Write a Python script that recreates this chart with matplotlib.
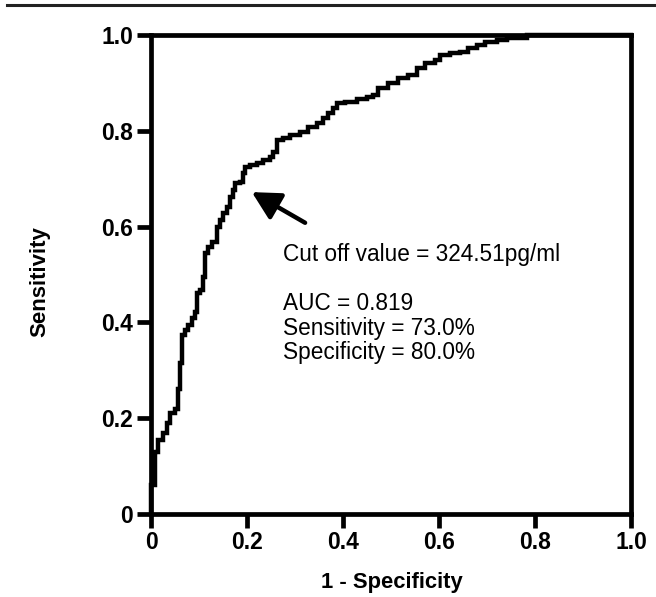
import matplotlib
matplotlib.use("Agg")
import matplotlib.pyplot as plt
from matplotlib.lines import Line2D

# ---- data ----
fpr = [0.0, 0.0, 0.008, 0.015, 0.025, 0.033, 0.040, 0.050, 0.056, 0.060,
       0.065, 0.071, 0.077, 0.085, 0.092, 0.096, 0.102, 0.108, 0.1125, 0.119,
       0.127, 0.137, 0.144, 0.150, 0.158, 0.165, 0.171, 0.175, 0.185, 0.192,
       0.196, 0.206, 0.220, 0.233, 0.248, 0.254, 0.262, 0.275, 0.290, 0.310,
       0.327, 0.346, 0.358, 0.369, 0.379, 0.388, 0.405, 0.430, 0.450, 0.462,
       0.473, 0.494, 0.515, 0.535, 0.554, 0.571, 0.592, 0.602, 0.623, 0.644,
       0.660, 0.679, 0.696, 0.721, 0.742, 0.783, 1.0]
tpr = [0.0, 0.06, 0.13, 0.155, 0.17, 0.19, 0.21, 0.22, 0.26, 0.315,
       0.374, 0.384, 0.395, 0.41, 0.422, 0.461, 0.468, 0.495, 0.545, 0.557,
       0.568, 0.599, 0.614, 0.628, 0.641, 0.662, 0.676, 0.691, 0.693, 0.712,
       0.724, 0.729, 0.733, 0.739, 0.745, 0.756, 0.781, 0.785, 0.791, 0.797,
       0.808, 0.816, 0.827, 0.837, 0.848, 0.858, 0.861, 0.866, 0.871, 0.875,
       0.889, 0.90, 0.91, 0.916, 0.931, 0.942, 0.948, 0.958, 0.962, 0.965,
       0.973, 0.979, 0.985, 0.99, 0.994, 1.0, 1.0]

x_ticks = [0, 0.2, 0.4, 0.6, 0.8, 1.0]
x_tick_labels = ["0", "0.2", "0.4", "0.6", "0.8", "1.0"]
y_ticks = [0, 0.2, 0.4, 0.6, 0.8, 1.0]
y_tick_labels = ["0", "0.2", "0.4", "0.6", "0.8", "1.0"]

cutoff_point = (0.21, 0.672)
arrow_tail = (0.321, 0.608)
info_text = ("Cut off value = 324.51pg/ml\n\n"
             "AUC = 0.819\n"
             "Sensitivity = 73.0%\n"
             "Specificity = 80.0%")

plt.rcParams['font.family'] = ['Liberation Sans', 'DejaVu Sans']

fig = plt.figure(figsize=(6.56, 5.97), dpi=100)
ax = fig.add_axes([151/656, 1-514/597, 480/656, 479/597])

ax.plot(fpr, tpr, drawstyle='steps-post', color='black', lw=3.2,
        clip_on=False, zorder=3, solid_joinstyle='miter')

ax.set_xlim(0, 1)
ax.set_ylim(0, 1)
for s in ax.spines.values():
    s.set_linewidth(3.4)
ax.set_xticks(x_ticks)
ax.set_xticklabels(x_tick_labels)
ax.set_yticks(y_ticks)
ax.set_yticklabels(y_tick_labels)
ax.tick_params(axis='both', length=10, width=3.4, labelsize=16.5, color='black')
ax.tick_params(axis='x', pad=2)
ax.tick_params(axis='y', pad=3)
for lab in ax.get_xticklabels() + ax.get_yticklabels():
    lab.set_fontweight('bold')

ax.annotate('', xy=cutoff_point, xytext=arrow_tail,
            arrowprops=dict(arrowstyle='-|>,head_length=0.85,head_width=0.45',
                            mutation_scale=20, lw=3.2, color='black',
                            shrinkA=0, shrinkB=0))
ax.text(0.275, 0.565, info_text, fontsize=16.3, va='top', ha='left',
        linespacing=1.08)

fig.text(392/656, 1-588/597, "1 - Specificity", fontsize=15.8, fontweight='bold',
         ha='center', va='baseline')
fig.text(40/656, 1-282/597, "Sensitivity", fontsize=16, fontweight='bold',
         ha='center', va='center', rotation=90)

fig.add_artist(Line2D([7/656, 1.0], [1-5/597, 1-5/597], color='#222222',
                      lw=2.2, transform=fig.transFigure))

fig.savefig("out.png", dpi=100)
